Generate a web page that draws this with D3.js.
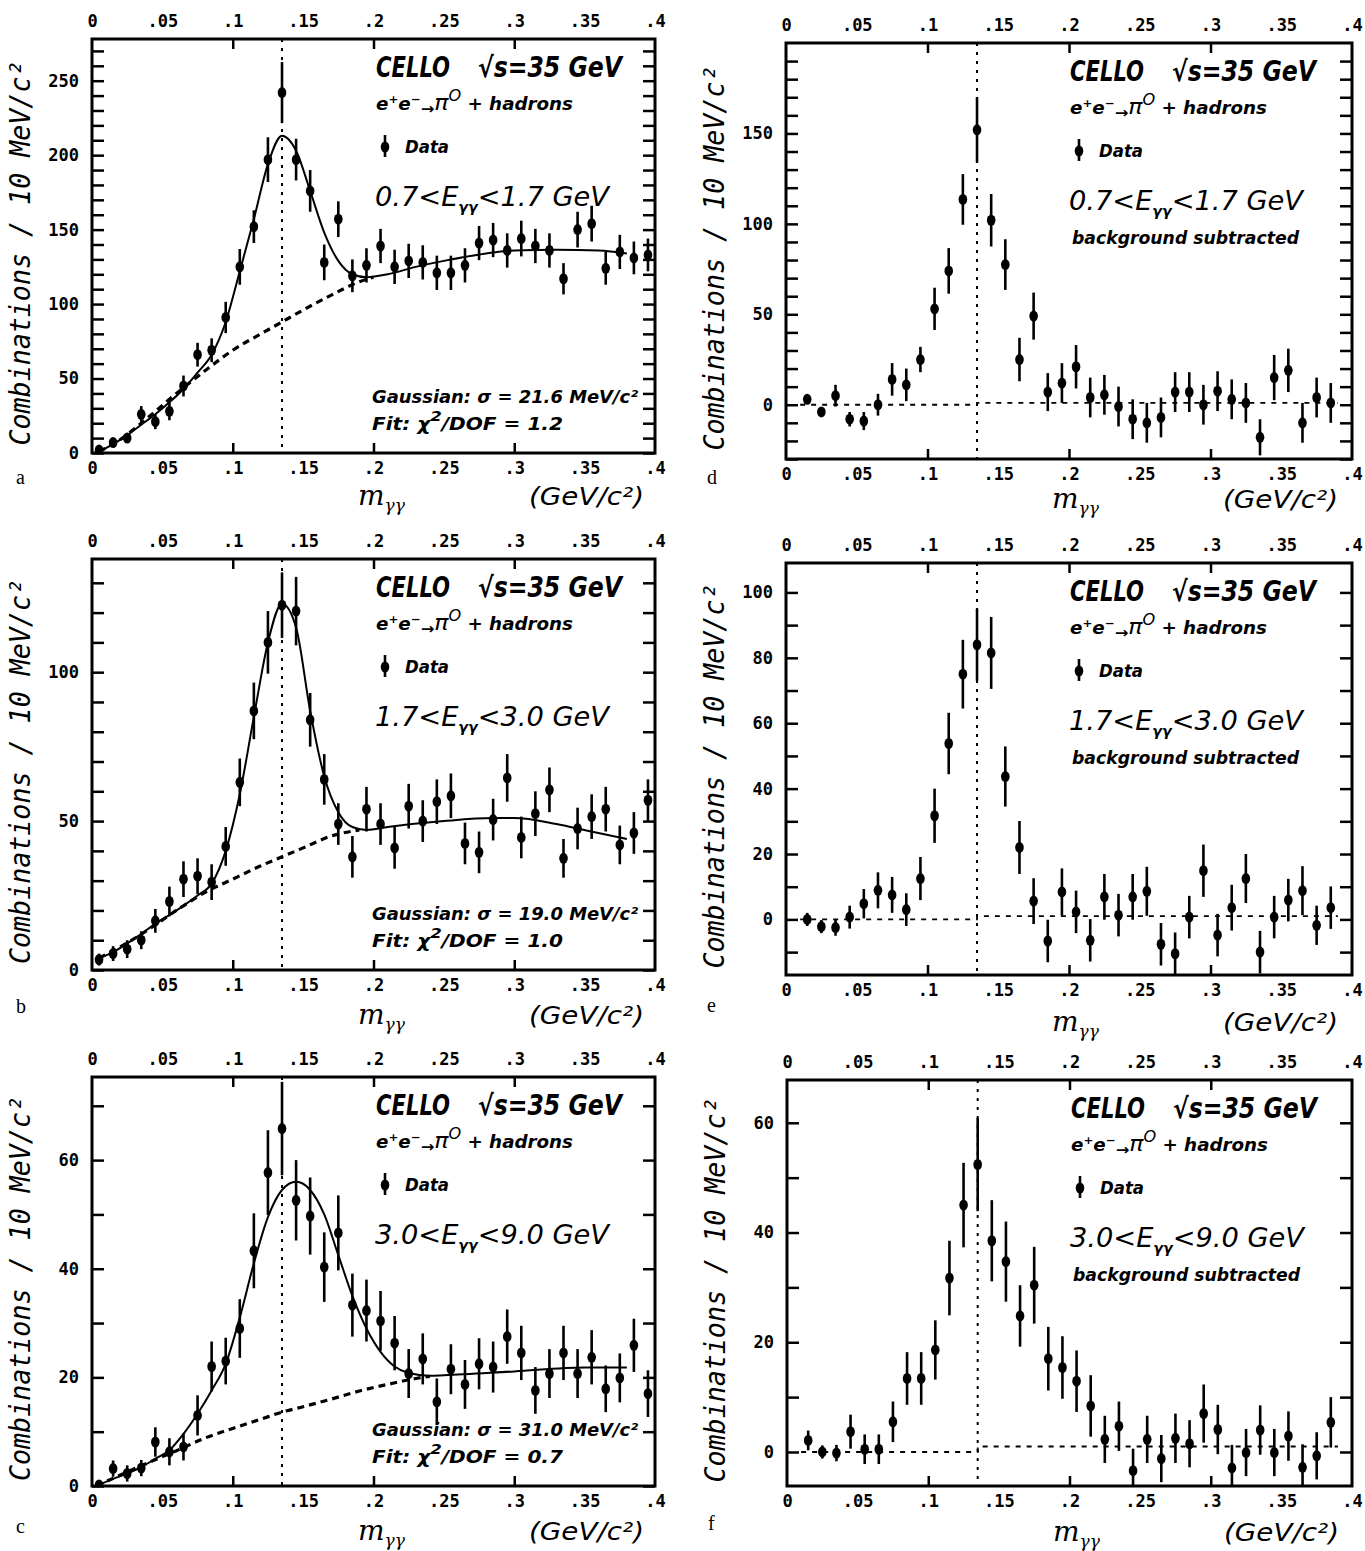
<!DOCTYPE html>
<html>
<head>
<meta charset="utf-8">
<script src="https://cdn.jsdelivr.net/npm/d3@7"></script>
<style>
  body { margin: 0; background: #fff; }
  svg text { fill: #000; }
  .tick text { font-family: "DejaVu Sans Mono", monospace; font-weight: bold; font-size: 17px; }
  .tick line { stroke: #000; stroke-width: 2.5; }
  .big { font-family: "DejaVu Sans Condensed", "DejaVu Sans", sans-serif; font-style: italic; font-weight: bold; font-size: 28px; }
  .small { font-family: "DejaVu Sans Condensed", "DejaVu Sans", sans-serif; font-style: italic; font-weight: bold; font-size: 17px; }
  .range { font-family: "DejaVu Sans", sans-serif; font-style: italic; font-size: 27px; }
  .ylab { font-family: "DejaVu Sans Mono", monospace; font-style: italic; font-size: 28px; }
  .xlab { font-family: "DejaVu Sans", sans-serif; font-style: italic; font-size: 25px; }
  .letter { font-family: "Liberation Serif", "DejaVu Serif", serif; font-size: 20px; }
</style>
</head>
<body>
<div id="chart"></div>
<script>
// 10 MeV bins of the two-photon mass (GeV/c^2)
const massBins = [0.005, 0.015, 0.025, 0.035, 0.045, 0.055, 0.065, 0.075, 0.085, 0.095,
  0.105, 0.115, 0.125, 0.135, 0.145, 0.155, 0.165, 0.175, 0.185, 0.195,
  0.205, 0.215, 0.225, 0.235, 0.245, 0.255, 0.265, 0.275, 0.285, 0.295,
  0.305, 0.315, 0.325, 0.335, 0.345, 0.355, 0.365, 0.375, 0.385, 0.395];
const piMass = 0.135;

const xTickValues = [0, 0.05, 0.1, 0.15, 0.2, 0.25, 0.3, 0.35, 0.4];
const xTickLabels = ["0", ".05", ".1", ".15", ".2", ".25", ".3", ".35", ".4"];
const xMajorTicks = [0.1, 0.2, 0.3];

// panel a: 0.7 < E < 1.7 GeV
const aCounts = [2, 7, 10, 26, 21, 28, 45, 66, 69, 91, 125, 152, 197, 242, 197, 176, 128, 157, 119, 126,
  139, 125, 129, 128, 121, 121, 126, 141, 143, 136, 144, 139, 136, 117, 150, 154, 124, 135, 131, 133];
const aErrors = [2, 3, 3, 5.5, 5, 6, 7, 8, 8, 10.5, 12, 11, 15, 20.5, 14, 14, 12, 12, 11, 11.5,
  11.5, 11.5, 11.5, 11.5, 11.5, 11.5, 11.5, 11.5, 11.5, 11.5, 12, 11.5, 11.5, 10.5, 12, 12, 11, 11.5, 11, 11];
const aFitX = [0.005, 0.015, 0.025, 0.035, 0.045, 0.055, 0.065, 0.075, 0.085, 0.095, 0.105, 0.115, 0.125, 0.135,
  0.145, 0.155, 0.165, 0.175, 0.185, 0.195, 0.21, 0.23, 0.25, 0.28, 0.30, 0.33, 0.36, 0.38];
const aFitY = [1, 6, 12, 19, 26, 34, 43, 54, 66, 88, 122, 157, 194, 213,
  203, 176, 148, 129, 120, 118, 120, 125, 129, 134, 136, 136.5, 136, 134];
const aBgX = [0.005, 0.02, 0.04, 0.06, 0.08, 0.10, 0.12, 0.135, 0.15, 0.17, 0.19, 0.20];
const aBgY = [1, 9, 24, 40, 55, 69, 80, 88, 96, 106, 115, 118];
const aYLabels = [0, 50, 100, 150, 200, 250];

// panel b: 1.7 < E < 3.0 GeV
const bCounts = [3.5, 5.5, 7, 10, 16.5, 23, 30.5, 31.5, 29.5, 41.5, 63, 87, 110, 122.5, 120.5, 84, 64, 49, 38, 54,
  49, 41, 55, 50, 56.5, 58.5, 42.5, 39.5, 50.5, 64.5, 44.5, 52.5, 60.5, 37.5, 47.5, 51.5, 54, 42, 46, 57];
const bErrors = [2, 2.5, 3, 3, 4, 5, 6, 6, 6, 6.5, 8, 9.5, 10.5, 11, 11.5, 9, 8.5, 7, 7, 7.5,
  7, 7, 7.5, 7, 7.5, 7.5, 7, 7, 7, 8, 7, 7.5, 7.5, 6.5, 7, 7.5, 7.5, 6.5, 7, 7];
const bFitX = [0.005, 0.015, 0.03, 0.045, 0.06, 0.075, 0.085, 0.095, 0.105, 0.115, 0.125, 0.135, 0.145,
  0.155, 0.165, 0.175, 0.185, 0.195, 0.21, 0.25, 0.285, 0.30, 0.33, 0.35, 0.375, 0.38];
const bFitY = [4, 6, 10.5, 15.5, 20, 25, 29, 40, 59, 85, 110, 123, 115,
  87, 65, 53, 48, 47, 48, 50, 51, 51, 49, 47, 44.5, 44];
const bBgX = [0.005, 0.03, 0.06, 0.08, 0.10, 0.12, 0.135, 0.15, 0.17, 0.19];
const bBgY = [4, 10.5, 20, 26, 30.5, 35, 38, 41, 45, 47];
const bYLabels = [0, 50, 100];

// panel c: 3.0 < E < 9.0 GeV
const cCounts = [0.2, 3.2, 2.3, 3.3, 8.1, 6.3, 7.2, 13, 22, 23, 29, 43.3, 57.7, 65.8, 52.6, 49.7, 40.3, 46.6, 33.3, 32.3,
  30.4, 26.3, 20.7, 23.4, 15.5, 21.5, 18.7, 22.5, 21.9, 27.5, 24.5, 17.6, 20.7, 24.5, 20.7, 23.7, 17.9, 19.9, 25.9, 17];
const cErrors = [0.5, 1.5, 1.5, 1.5, 2.7, 2.5, 2.5, 3.7, 4.6, 4.3, 5.4, 6.9, 7.8, 8.6, 7.4, 7.1, 6.4, 6.9, 5.8, 5.7,
  5.5, 5, 4.5, 4.7, 4.3, 4.6, 4.5, 4.7, 4.7, 5, 5, 4.3, 4.5, 5, 4.5, 5, 4.3, 4.5, 4.9, 4.3];
const cFitX = [0.003, 0.015, 0.025, 0.035, 0.045, 0.055, 0.065, 0.075, 0.085, 0.095, 0.105, 0.115, 0.125, 0.135,
  0.145, 0.155, 0.165, 0.175, 0.185, 0.195, 0.205, 0.215, 0.225, 0.24, 0.25, 0.30, 0.35, 0.38];
const cFitY = [0, 1.3, 2.3, 3.5, 5, 6.6, 9.6, 13.3, 17.6, 22.5, 31, 41, 49.5, 54.5,
  56, 54.5, 50, 42.5, 35, 29, 24.7, 22, 20.8, 20.3, 20.4, 21.1, 21.8, 21.8];
const cBgX = [0.003, 0.02, 0.04, 0.06, 0.08, 0.10, 0.12, 0.135, 0.15, 0.17, 0.19, 0.21, 0.23, 0.24];
const cBgY = [0, 2, 4.3, 6.5, 8.8, 10.6, 12.3, 13.6, 14.6, 16, 17.5, 18.7, 19.8, 20.2];
const cYLabels = [0, 20, 40, 60];

// panels d, e, f: background subtracted
const dCounts = [null, 3, -4, 5, -8, -9, 0, 14, 11, 25, 53, 74, 113.5, 152, 102, 77.5, 25, 49, 7, 12,
  21, 4, 5.5, -1, -8, -10, -7, 7, 7, 0, 7.5, 3, 1, -18, 15, 19, -10, 4, 1, null];
const dErrors = [null, 2, 2, 6, 4, 5, 6, 9, 9, 7, 11.7, 12.6, 14, 18, 14.5, 14, 12, 13, 10.5, 11,
  12, 11, 11, 11, 11, 11, 11, 11, 11, 11, 11, 11, 11, 10, 12.5, 12, 11, 11, 11, null];
const dYLabels = [0, 50, 100, 150];

const eCounts = [null, 0, -2.2, -2.5, 0.7, 4.8, 8.9, 7.5, 3, 12.5, 31.7, 53.8, 75, 84, 81.5, 43.7, 22, 5.6, -6.6, 8.4,
  2.3, -6.4, 6.9, 1.3, 6.9, 8.6, -7.6, -10.5, 0.7, 14.9, -4.8, 3.6, 12.5, -10, 0.7, 5.9, 8.8, -1.8, 3.6, null];
const eErrors = [null, 2, 2, 2.5, 3.5, 4.5, 5.5, 5.5, 5, 6.6, 8.3, 9.4, 10.5, 11, 11, 9.2, 8.1, 7, 6.5, 7.2,
  6.5, 6.5, 7, 6.5, 7, 7.5, 6.5, 6.5, 6.5, 8, 6.5, 7, 7.5, 6.5, 6.5, 6.5, 7.5, 6, 6.5, null];
const eYLabels = [0, 20, 40, 60, 80, 100];

const fCounts = [null, 2.1, 0, -0.2, 3.7, 0.5, 0.5, 5.5, 13.4, 13.4, 18.6, 31.7, 45, 52.4, 38.5, 34.7, 24.8, 30.4, 17, 15.4,
  12.9, 8.4, 2.3, 4.7, -3.4, 2.3, -1.2, 2.5, 1.5, 7, 4.1, -2.9, -0.1, 4, -0.1, 2.9, -2.8, -0.7, 5.4, null];
const fErrors = [null, 1.8, 1.2, 1.5, 3.1, 2.7, 2.7, 3.7, 4.8, 4.8, 5.4, 6.8, 7.7, 8.5, 7.4, 7.3, 5.6, 7, 5.8, 5.7,
  5.6, 5.6, 4.3, 4.5, 4, 4.3, 4.3, 4.5, 4.3, 5.3, 4.5, 4.2, 4.3, 4.5, 4.3, 4.5, 4.2, 4.3, 4.6, null];
const fYLabels = [0, 20, 40, 60];

// zero line of the subtracted spectra (slight step at the pi0 line)
const zeroX = [0.01, 0.135, 0.135, 0.39];
const zeroY = [0, 0, 1, 1];

const energyLow = ["0.7", "1.7", "3.0"];
const energyHigh = ["1.7", "3.0", "9.0"];
const sigmas = ["21.6", "19.0", "31.0"];
const chi2 = ["1.2", "1.0", "0.7"];

const panels = [
  {id: 'a', counts: aCounts, errors: aErrors, fitX: aFitX, fitY: aFitY, bgX: aBgX, bgY: aBgY, yDomain: [0, 278], yLabels: aYLabels, row: 0},
  {id: 'b', counts: bCounts, errors: bErrors, fitX: bFitX, fitY: bFitY, bgX: bBgX, bgY: bBgY, yDomain: [0, 138], yLabels: bYLabels, row: 1},
  {id: 'c', counts: cCounts, errors: cErrors, fitX: cFitX, fitY: cFitY, bgX: cBgX, bgY: cBgY, yDomain: [0, 75.3], yLabels: cYLabels, row: 2},
  {id: 'd', counts: dCounts, errors: dErrors, yDomain: [-30, 200], yLabels: dYLabels, row: 0, subtracted: true},
  {id: 'e', counts: eCounts, errors: eErrors, yDomain: [-17, 109], yLabels: eYLabels, row: 1, subtracted: true},
  {id: 'f', counts: fCounts, errors: fErrors, yDomain: [-6.2, 67.8], yLabels: fYLabels, row: 2, subtracted: true}
];

const layout = {
  a: {left: 92, top: 39, right: 655, bottom: 453, letterY: 484, titleY: 505},
  b: {left: 92, top: 559, right: 655, bottom: 970, letterY: 1013, titleY: 1024},
  c: {left: 92, top: 1077, right: 655, bottom: 1486, letterY: 1533, titleY: 1540},
  d: {left: 786, top: 43, right: 1352, bottom: 459, letterY: 484, titleY: 508},
  e: {left: 786, top: 563, right: 1352, bottom: 975, letterY: 1012, titleY: 1031},
  f: {left: 787, top: 1080, right: 1352, bottom: 1486, letterY: 1530, titleY: 1541}
};

const svg = d3.select('#chart').append('svg')
  .attr('width', 1365)
  .attr('height', 1551);

panels.forEach(p => drawPanel(p, layout[p.id]));

function drawPanel(p, L) {
  const x = d3.scaleLinear().domain([0, 0.4]).range([L.left, L.right]);
  const y = d3.scaleLinear().domain(p.yDomain).range([L.bottom, L.top]);
  const g = svg.append('g');

  svg.append('clipPath').attr('id', 'clip-' + p.id)
    .append('rect')
    .attr('x', L.left).attr('y', L.top)
    .attr('width', L.right - L.left).attr('height', L.bottom - L.top);

  // y ticks every 10, inward on both sides
  const yTicks = d3.range(Math.ceil(p.yDomain[0] / 10) * 10, p.yDomain[1], 10);
  g.append('g')
    .attr('transform', `translate(${L.left},0)`)
    .call(d3.axisLeft(y).tickValues(yTicks).tickSizeInner(-12).tickSizeOuter(0).tickPadding(13)
      .tickFormat(d => p.yLabels.includes(d) ? d : ''));
  g.append('g')
    .attr('transform', `translate(${L.right},0)`)
    .call(d3.axisRight(y).tickValues(yTicks).tickSizeInner(-12).tickSizeOuter(0).tickFormat(''));

  // x ticks at .1 .2 .3, labels every .05 on top and bottom
  g.append('g')
    .attr('transform', `translate(0,${L.bottom})`)
    .call(d3.axisBottom(x).tickValues(xMajorTicks).tickSizeInner(-10).tickSizeOuter(0).tickFormat(''));
  g.append('g')
    .attr('transform', `translate(0,${L.top})`)
    .call(d3.axisTop(x).tickValues(xMajorTicks).tickSizeInner(-10).tickSizeOuter(0).tickFormat(''));
  g.append('g')
    .attr('transform', `translate(0,${L.bottom})`)
    .call(d3.axisBottom(x).tickValues(xTickValues).tickSize(0).tickPadding(9).tickFormat((d, i) => xTickLabels[i]));
  g.append('g')
    .attr('transform', `translate(0,${L.top})`)
    .call(d3.axisTop(x).tickValues(xTickValues).tickSize(0).tickPadding(12).tickFormat((d, i) => xTickLabels[i]));
  g.selectAll('.domain').remove();

  // frame
  g.append('rect')
    .attr('x', L.left).attr('y', L.top)
    .attr('width', L.right - L.left).attr('height', L.bottom - L.top)
    .attr('fill', 'none').attr('stroke', '#000').attr('stroke-width', 3);

  // pi0 mass line
  g.append('line')
    .attr('x1', x(piMass)).attr('x2', x(piMass))
    .attr('y1', L.top).attr('y2', L.bottom)
    .attr('stroke', '#000').attr('stroke-width', 2).attr('stroke-dasharray', '3,6');

  const plot = g.append('g').attr('clip-path', `url(#clip-${p.id})`);

  if (p.subtracted) {
    const zero = d3.line().x(d => x(d[0])).y(d => y(d[1]));
    plot.append('path')
      .datum(zeroX.map((v, i) => [v, zeroY[i]]))
      .attr('d', zero)
      .attr('fill', 'none').attr('stroke', '#000').attr('stroke-width', 1.8).attr('stroke-dasharray', '5,6');
  } else {
    const curve = d3.line().x(d => x(d[0])).y(d => y(d[1])).curve(d3.curveMonotoneX);
    plot.append('path')
      .datum(p.bgX.map((v, i) => [v, p.bgY[i]]))
      .attr('d', curve)
      .attr('fill', 'none').attr('stroke', '#000').attr('stroke-width', 3.2).attr('stroke-dasharray', '7,5');
    plot.append('path')
      .datum(p.fitX.map((v, i) => [v, p.fitY[i]]))
      .attr('d', curve)
      .attr('fill', 'none').attr('stroke', '#000').attr('stroke-width', 2);
  }

  // data points with error bars
  const pts = massBins.map((m, i) => ({m, v: p.counts[i], e: p.errors[i]})).filter(d => d.v !== null);
  const pt = plot.selectAll('.pt').data(pts).enter().append('g').attr('class', 'pt');
  pt.append('line')
    .attr('x1', d => x(d.m)).attr('x2', d => x(d.m))
    .attr('y1', d => y(d.v - d.e)).attr('y2', d => y(d.v + d.e))
    .attr('stroke', '#000').attr('stroke-width', 2.6);
  pt.append('ellipse')
    .attr('cx', d => x(d.m)).attr('cy', d => y(d.v))
    .attr('rx', 4.3).attr('ry', 5.5)
    .attr('fill', '#000');

  // axis titles and panel letter
  g.append('text')
    .attr('class', 'ylab')
    .attr('transform', `translate(${L.left - 62},${(L.top + L.bottom) / 2 + 7}) rotate(-90)`)
    .attr('text-anchor', 'middle')
    .attr('textLength', 385).attr('lengthAdjust', 'spacingAndGlyphs')
    .text('Combinations / 10 MeV/c²');

  const mt = g.append('text').attr('x', L.left + 266).attr('y', L.titleY)
    .attr('font-family', 'DejaVu Serif, serif').attr('font-style', 'italic');
  mt.append('tspan').attr('font-size', 28).text('m');
  mt.append('tspan').attr('font-size', 17).attr('dy', 6).text('γγ');
  g.append('text').attr('class', 'xlab')
    .attr('x', L.left + 437).attr('y', L.titleY)
    .attr('textLength', 115).attr('lengthAdjust', 'spacingAndGlyphs')
    .text('(GeV/c²)');

  g.append('text').attr('class', 'letter')
    .attr('x', p.subtracted ? L.left - 79 : L.left - 76).attr('y', L.letterY)
    .text(p.id);

  drawLegend(g, p, L);
}

function drawLegend(g, p, L) {
  const x0 = L.left + 284;
  g.append('text').attr('class', 'big')
    .attr('x', x0).attr('y', L.top + 38)
    .attr('textLength', 74).attr('lengthAdjust', 'spacingAndGlyphs')
    .text('CELLO');
  g.append('text').attr('class', 'big')
    .attr('x', L.left + 386).attr('y', L.top + 38)
    .attr('textLength', 144).attr('lengthAdjust', 'spacingAndGlyphs')
    .text('√s=35 GeV');

  const r = g.append('text').attr('class', 'small')
    .attr('x', x0).attr('y', L.top + 71)
    .attr('textLength', 197).attr('lengthAdjust', 'spacingAndGlyphs');
  r.append('tspan').text('e');
  r.append('tspan').attr('dy', -7).attr('font-size', 11).text('+');
  r.append('tspan').attr('dy', 7).text('e');
  r.append('tspan').attr('dy', -7).attr('font-size', 11).text('−');
  r.append('tspan').attr('dy', 11).attr('font-size', 15).text('→');
  r.append('tspan').attr('dy', -4).attr('font-size', 22).attr('font-weight', 'normal').text('π');
  r.append('tspan').attr('dy', -9).attr('font-size', 15).attr('font-weight', 'normal').text('O');
  r.append('tspan').attr('dy', 9).text(' + hadrons');

  // Data marker
  const mx = L.left + 293, my = L.top + 108;
  g.append('line').attr('x1', mx).attr('x2', mx).attr('y1', my - 12).attr('y2', my + 10)
    .attr('stroke', '#000').attr('stroke-width', 2.6);
  g.append('ellipse').attr('cx', mx).attr('cy', my).attr('rx', 4.3).attr('ry', 5.5).attr('fill', '#000');
  g.append('text').attr('class', 'small')
    .attr('x', L.left + 313).attr('y', L.top + 114)
    .attr('textLength', 44).attr('lengthAdjust', 'spacingAndGlyphs')
    .text('Data');

  const e = g.append('text').attr('class', 'range')
    .attr('x', x0 - 1).attr('y', L.top + 167)
    .attr('textLength', 234).attr('lengthAdjust', 'spacingAndGlyphs');
  e.append('tspan').text(energyLow[p.row] + '<E');
  e.append('tspan').attr('dy', 6).attr('font-size', 14).attr('font-weight', 'bold').text('γγ');
  e.append('tspan').attr('dy', -6).text('<' + energyHigh[p.row] + ' GeV');

  if (p.subtracted) {
    g.append('text').attr('class', 'small')
      .attr('x', L.left + 286).attr('y', L.top + 201)
      .attr('font-size', 18)
      .attr('textLength', 227).attr('lengthAdjust', 'spacingAndGlyphs')
      .text('background subtracted');
  } else {
    g.append('text').attr('class', 'small')
      .attr('x', L.left + 280).attr('y', L.bottom - 50)
      .attr('font-size', 19)
      .attr('textLength', 266).attr('lengthAdjust', 'spacingAndGlyphs')
      .text('Gaussian: σ = ' + sigmas[p.row] + ' MeV/c²');
    const f = g.append('text').attr('class', 'small')
      .attr('x', L.left + 280).attr('y', L.bottom - 23)
      .attr('font-size', 20)
      .attr('textLength', 191).attr('lengthAdjust', 'spacingAndGlyphs');
    f.append('tspan').text('Fit: χ');
    f.append('tspan').attr('dy', -9).attr('font-size', 14).text('2');
    f.append('tspan').attr('dy', 9).text('/DOF = ' + chi2[p.row]);
  }
}
</script>
</body>
</html>
